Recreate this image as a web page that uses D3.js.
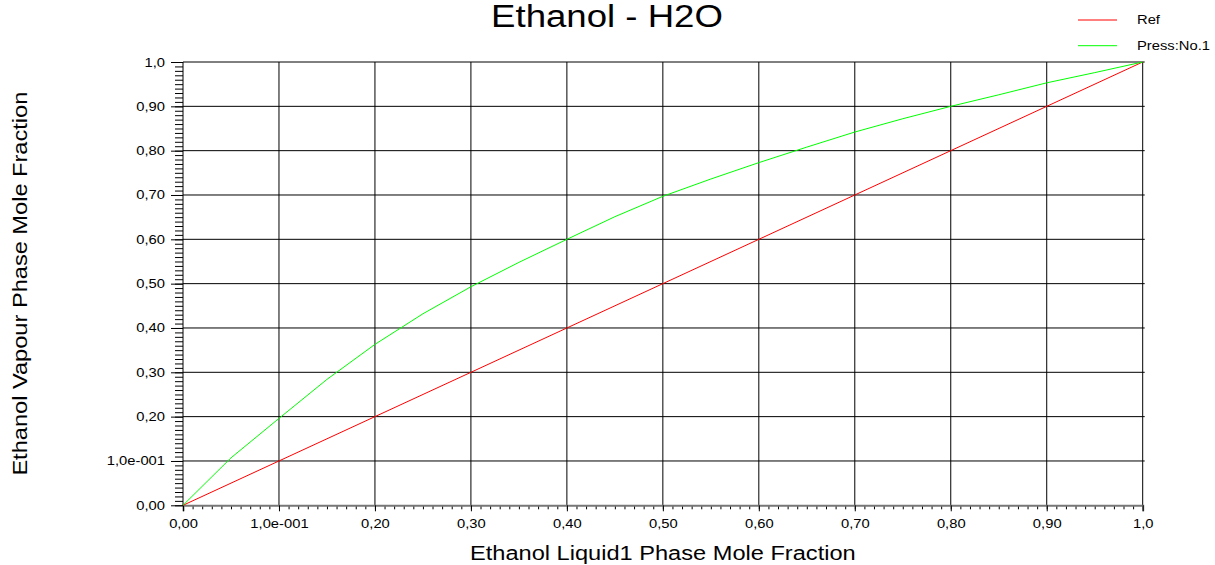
<!DOCTYPE html>
<html>
<head>
<meta charset="utf-8">
<script src="https://cdn.jsdelivr.net/npm/d3@7"></script>
<style>
  body { margin: 0; background: #fff; }
  svg { display: block; font-family: "Liberation Sans", Arial, sans-serif; }
</style>
</head>
<body>
<svg id="chart" width="1215" height="565"></svg>
<script>
// data
const liquidX = [0, 0.05, 0.10, 0.15, 0.20, 0.25, 0.30, 0.35, 0.40, 0.45, 0.50,
                 0.55, 0.60, 0.65, 0.70, 0.75, 0.80, 0.85, 0.90, 0.95, 1.0];
const vapourY = [0, 0.107, 0.196, 0.284, 0.363, 0.432, 0.493, 0.548, 0.600, 0.651, 0.697,
                 0.736, 0.773, 0.808, 0.842, 0.872, 0.900, 0.926, 0.953, 0.976, 1.0];
const refX = [0, 1];
const refY = [0, 1];
const tickValues = [0, 0.1, 0.2, 0.3, 0.4, 0.5, 0.6, 0.7, 0.8, 0.9, 1.0];
const tickLabels = ["0,00", "1,0e-001", "0,20", "0,30", "0,40", "0,50", "0,60", "0,70", "0,80", "0,90", "1,0"];
const seriesNames = ["Ref", "Press:No.1"];
const seriesColors = ["#ff0000", "#00ff00"];

(function () {
  const svg = d3.select("#chart");
  const plotLeft = 183, plotRight = 1142.7, plotTop = 62, plotBottom = 505.3;
  const stretch = 1.18;

  const x = d3.scaleLinear().domain([0, 1]).range([plotLeft, plotRight]);
  const y = d3.scaleLinear().domain([0, 1]).range([plotBottom, plotTop]);
  const minor = d3.range(0, 101).map((i) => i / 100);
  const labelOf = (v) => tickLabels[tickValues.findIndex((t) => Math.abs(t - v) < 1e-9)];

  // grid
  const grid = svg.append("g").attr("stroke", "#000").attr("stroke-width", 1);
  grid.selectAll("line.v").data(tickValues.slice(1)).join("line").attr("class", "v")
    .attr("x1", (d) => x(d)).attr("x2", (d) => x(d))
    .attr("y1", plotTop).attr("y2", plotBottom);
  grid.selectAll("line.h").data(tickValues.slice(1)).join("line").attr("class", "h")
    .attr("x1", plotLeft).attr("x2", plotRight + 2)
    .attr("y1", (d) => y(d)).attr("y2", (d) => y(d));

  // axes
  svg.append("g").attr("transform", `translate(0,${plotBottom})`)
    .call(d3.axisBottom(x).tickValues(minor).tickSize(4).tickFormat(""))
    .call((g) => g.select(".domain").remove());
  const xAxis = svg.append("g").attr("transform", `translate(0,${plotBottom})`)
    .call(d3.axisBottom(x).tickValues(tickValues).tickSize(6).tickPadding(8).tickFormat(labelOf));
  xAxis.select(".domain").attr("stroke", "#777").attr("stroke-width", 2);

  svg.append("g").attr("transform", `translate(${plotLeft},0)`)
    .call(d3.axisLeft(y).tickValues(minor).tickSize(8).tickFormat(""))
    .call((g) => g.select(".domain").remove());
  const yAxis = svg.append("g").attr("transform", `translate(${plotLeft},0)`)
    .call(d3.axisLeft(y).tickValues(tickValues).tickSize(12).tickPadding(6).tickFormat(labelOf));
  yAxis.select(".domain").remove();
  svg.append("line").attr("x1", plotLeft).attr("x2", plotLeft)
    .attr("y1", plotTop).attr("y2", plotBottom).attr("stroke", "#000");

  svg.selectAll(".tick text").attr("font-size", 12.5).attr("fill", "#000")
    .attr("font-family", "'Liberation Sans', Arial, sans-serif");
  svg.selectAll(".tick line").attr("stroke", "#000");

  // series
  const line = d3.line().x((d) => x(d[0])).y((d) => y(d[1]));
  svg.append("path").datum(d3.zip(refX, refY))
    .attr("d", line).attr("fill", "none").attr("stroke", seriesColors[0]).attr("stroke-width", 1);
  svg.append("path").datum(d3.zip(liquidX, vapourY))
    .attr("d", line).attr("fill", "none").attr("stroke", seriesColors[1]).attr("stroke-width", 1);

  // titles
  svg.append("text").attr("x", 607).attr("y", 27).attr("text-anchor", "middle")
    .attr("font-size", 31).text("Ethanol - H2O");
  svg.append("text").attr("x", (plotLeft + plotRight) / 2).attr("y", 560).attr("text-anchor", "middle")
    .attr("font-size", 20).text("Ethanol Liquid1 Phase Mole Fraction");
  svg.append("text").attr("transform", `translate(27,${(plotTop + plotBottom) / 2}) rotate(-90)`)
    .attr("text-anchor", "middle").attr("font-size", 20).text("Ethanol Vapour Phase Mole Fraction");

  // legend
  const legend = svg.append("g").selectAll("g").data(seriesNames).join("g")
    .attr("transform", (d, i) => `translate(1078,${20 + i * 25.7})`);
  legend.append("line").attr("x1", 0).attr("x2", 39)
    .attr("stroke", (d, i) => seriesColors[i]).attr("stroke-width", 1);
  legend.append("text").attr("x", 59).attr("dy", "0.35em").attr("font-size", 12.5).text((d) => d);

  // the reference font runs wider than Arial
  svg.selectAll("text").each(function () {
    const w = this.getComputedTextLength();
    d3.select(this).attr("textLength", w * stretch).attr("lengthAdjust", "spacingAndGlyphs");
  });
})();
</script>
</body>
</html>
